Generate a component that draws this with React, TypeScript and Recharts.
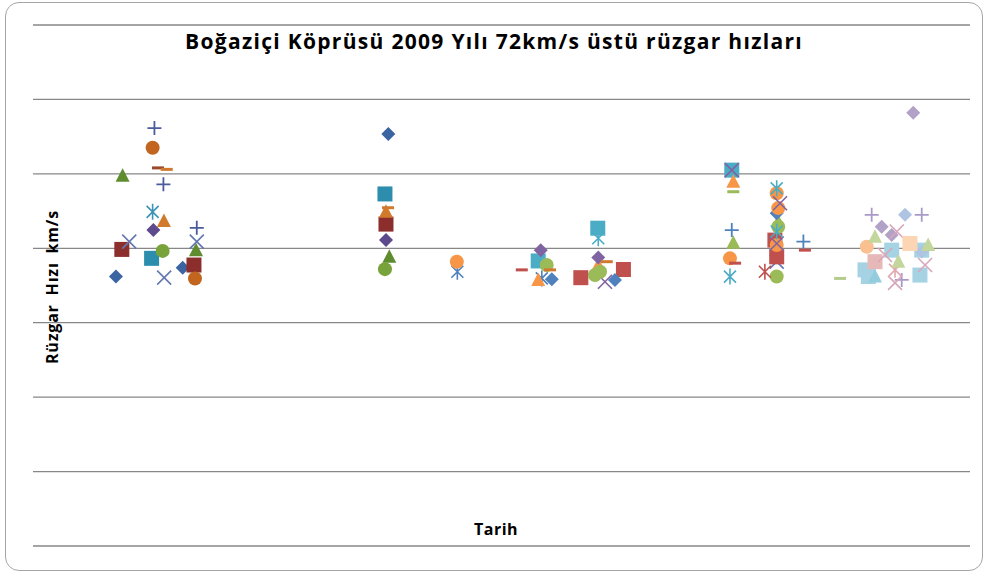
import React from "react";
import { ScatterChart, Scatter, XAxis, YAxis, CartesianGrid } from "recharts";

// gun = day of year 2009, hiz = wind speed, seri = index into SERI_STILLERI
type Nokta = { gun: number; hiz: number; seri: number };

const subat: Nokta[] = [
  { gun: 47.3, hiz: 112.3, seri: 6 }, { gun: 46.6, hiz: 107.0, seri: 5 }, { gun: 48.7, hiz: 101.6, seri: 7 },
  { gun: 52.1, hiz: 101.2, seri: 38 }, { gun: 34.9, hiz: 99.5, seri: 2 }, { gun: 50.8, hiz: 97.2, seri: 6 },
  { gun: 46.6, hiz: 89.8, seri: 9 }, { gun: 51.0, hiz: 87.3, seri: 10 }, { gun: 46.9, hiz: 84.9, seri: 3 },
  { gun: 37.5, hiz: 81.8, seri: 8 }, { gun: 63.8, hiz: 85.5, seri: 6 }, { gun: 63.8, hiz: 81.8, seri: 8 },
  { gun: 34.6, hiz: 79.7, seri: 1 }, { gun: 50.5, hiz: 79.3, seri: 11 }, { gun: 46.2, hiz: 77.3, seri: 4 },
  { gun: 63.5, hiz: 79.5, seri: 2 }, { gun: 58.3, hiz: 74.8, seri: 0 }, { gun: 62.7, hiz: 75.5, seri: 1 },
  { gun: 51.1, hiz: 72.1, seri: 8 }, { gun: 32.3, hiz: 72.4, seri: 0 }, { gun: 63.1, hiz: 71.9, seri: 5 },
];

const mayisHaziran: Nokta[] = [
  { gun: 138.4, hiz: 110.7, seri: 0 }, { gun: 137.1, hiz: 94.6, seri: 4 }, { gun: 138.3, hiz: 90.9, seri: 38 },
  { gun: 137.5, hiz: 89.8, seri: 10 }, { gun: 137.5, hiz: 86.5, seri: 1 }, { gun: 137.5, hiz: 82.2, seri: 3 },
  { gun: 138.8, hiz: 77.7, seri: 2 }, { gun: 137.1, hiz: 74.4, seri: 11 }, { gun: 165.1, hiz: 76.4, seri: 16 },
  { gun: 165.3, hiz: 73.7, seri: 15 },
];

const temmuzAgustos: Nokta[] = [
  { gun: 220.0, hiz: 85.4, seri: 17 }, { gun: 220.2, hiz: 82.7, seri: 39 }, { gun: 197.8, hiz: 79.5, seri: 20 },
  { gun: 190.4, hiz: 74.2, seri: 19 }, { gun: 196.8, hiz: 76.6, seri: 17 }, { gun: 200.1, hiz: 75.5, seri: 22 },
  { gun: 201.4, hiz: 74.2, seri: 38 }, { gun: 198.2, hiz: 71.9, seri: 15 }, { gun: 196.8, hiz: 71.5, seri: 18 },
  { gun: 202.1, hiz: 71.7, seri: 14 }, { gun: 213.4, hiz: 72.1, seri: 12 }, { gun: 220.2, hiz: 77.5, seri: 20 },
  { gun: 220.2, hiz: 75.5, seri: 18 }, { gun: 218.9, hiz: 72.8, seri: 22 }, { gun: 223.5, hiz: 76.4, seri: 38 },
  { gun: 222.8, hiz: 71.0, seri: 21 }, { gun: 226.7, hiz: 71.5, seri: 14 }, { gun: 230.0, hiz: 74.3, seri: 12 },
  { gun: 220.9, hiz: 73.7, seri: 22 },
];

const ekim: Nokta[] = [
  { gun: 272.2, hiz: 101.0, seri: 17 }, { gun: 272.2, hiz: 101.0, seri: 21 }, { gun: 272.8, hiz: 97.9, seri: 18 },
  { gun: 272.8, hiz: 95.2, seri: 25 }, { gun: 272.2, hiz: 84.9, seri: 23 }, { gun: 272.8, hiz: 81.5, seri: 13 },
  { gun: 271.5, hiz: 77.3, seri: 16 }, { gun: 273.5, hiz: 76.0, seri: 19 }, { gun: 271.5, hiz: 72.4, seri: 39 },
  { gun: 289.7, hiz: 96.1, seri: 39 }, { gun: 289.7, hiz: 94.8, seri: 16 }, { gun: 291.0, hiz: 92.1, seri: 21 },
  { gun: 290.3, hiz: 90.8, seri: 16 }, { gun: 289.7, hiz: 89.4, seri: 14 }, { gun: 290.3, hiz: 87.2, seri: 13 },
  { gun: 290.3, hiz: 85.8, seri: 22 }, { gun: 289.7, hiz: 84.5, seri: 39 }, { gun: 289.0, hiz: 82.2, seri: 12 },
  { gun: 289.7, hiz: 81.3, seri: 21 }, { gun: 289.7, hiz: 80.9, seri: 16 }, { gun: 289.7, hiz: 77.7, seri: 12 },
  { gun: 289.7, hiz: 76.4, seri: 8 }, { gun: 285.1, hiz: 73.7, seri: 24 }, { gun: 289.7, hiz: 72.4, seri: 22 },
  { gun: 300.1, hiz: 81.8, seri: 23 }, { gun: 300.7, hiz: 79.5, seri: 19 },
];

const kasimAralik: Nokta[] = [
  { gun: 342.9, hiz: 116.4, seri: 26 }, { gun: 314.4, hiz: 71.9, seri: 34 }, { gun: 326.7, hiz: 89.0, seri: 27 },
  { gun: 339.7, hiz: 89.0, seri: 35 }, { gun: 346.2, hiz: 89.0, seri: 27 }, { gun: 330.6, hiz: 85.8, seri: 26 },
  { gun: 336.5, hiz: 84.5, seri: 30 }, { gun: 334.5, hiz: 83.6, seri: 26 }, { gun: 328.0, hiz: 83.1, seri: 37 },
  { gun: 324.8, hiz: 80.4, seri: 33 }, { gun: 341.6, hiz: 81.3, seri: 36 }, { gun: 334.5, hiz: 79.5, seri: 28 },
  { gun: 346.2, hiz: 79.5, seri: 28 }, { gun: 346.2, hiz: 79.1, seri: 35 }, { gun: 348.7, hiz: 80.9, seri: 37 },
  { gun: 328.0, hiz: 76.4, seri: 29 }, { gun: 331.9, hiz: 78.2, seri: 30 }, { gun: 328.0, hiz: 72.4, seri: 31 },
  { gun: 335.8, hiz: 74.2, seri: 32 }, { gun: 345.5, hiz: 72.8, seri: 28 }, { gun: 347.5, hiz: 75.5, seri: 30 },
  { gun: 325.4, hiz: 72.4, seri: 28 }, { gun: 338.4, hiz: 71.5, seri: 27 }, { gun: 337.1, hiz: 76.4, seri: 37 },
  { gun: 324.1, hiz: 74.2, seri: 28 }, { gun: 335.8, hiz: 70.7, seri: 30 },
];

const yTicks = [0, 20, 40, 60, 80, 100, 120, 140];

type Sekil = "diamond" | "square" | "triangle" | "x" | "star" | "circle" | "plus" | "dash";

const SERI_STILLERI: { sekil: Sekil; renk: string }[] = [
  { sekil: "diamond", renk: "#3B64A3" }, { sekil: "square", renk: "#8C2E2C" }, { sekil: "triangle", renk: "#5E8C2F" },
  { sekil: "diamond", renk: "#5C4A8C" }, { sekil: "square", renk: "#2C8DAD" }, { sekil: "circle", renk: "#C2661F" },
  { sekil: "plus", renk: "#4A5C9C" }, { sekil: "dash", renk: "#9A4A2A" }, { sekil: "x", renk: "#6478B0" },
  { sekil: "star", renk: "#3D93B5" }, { sekil: "triangle", renk: "#D27A2C" }, { sekil: "circle", renk: "#78A33A" },
  { sekil: "square", renk: "#C0504D" }, { sekil: "triangle", renk: "#9BBB59" }, { sekil: "diamond", renk: "#4F81BD" },
  { sekil: "star", renk: "#4F81BD" }, { sekil: "circle", renk: "#F79646" }, { sekil: "square", renk: "#4BACC6" },
  { sekil: "triangle", renk: "#F79646" }, { sekil: "dash", renk: "#C0504D" }, { sekil: "diamond", renk: "#8064A2" },
  { sekil: "x", renk: "#8064A2" }, { sekil: "circle", renk: "#9BBB59" }, { sekil: "plus", renk: "#4F81BD" },
  { sekil: "star", renk: "#C0504D" }, { sekil: "dash", renk: "#9BBB59" }, { sekil: "diamond", renk: "#B3A2C7" },
  { sekil: "plus", renk: "#A99BC9" }, { sekil: "square", renk: "#A5D3E3" }, { sekil: "square", renk: "#E6B9B8" },
  { sekil: "x", renk: "#D9A5B8" }, { sekil: "triangle", renk: "#93CDDD" }, { sekil: "star", renk: "#E2A8B0" },
  { sekil: "circle", renk: "#FAC090" }, { sekil: "dash", renk: "#B5CC8E" }, { sekil: "diamond", renk: "#AFC4E2" },
  { sekil: "square", renk: "#FCD5B5" }, { sekil: "triangle", renk: "#C3D69B" }, { sekil: "dash", renk: "#D07A30" },
  { sekil: "star", renk: "#4BACC6" },
];

const tumNoktalar = [...subat, ...mayisHaziran, ...temmuzAgustos, ...ekim, ...kasimAralik];

function Isaret({ cx, cy, sekil, renk }: { cx?: number; cy?: number; sekil: Sekil; renk: string }) {
  if (cx == null || cy == null) return null;
  const s = 7;
  switch (sekil) {
    case "diamond":
      return <path d={`M${cx},${cy - s} L${cx + s},${cy} L${cx},${cy + s} L${cx - s},${cy} Z`} fill={renk} />;
    case "square":
      return <rect x={cx - 7.5} y={cy - 7.5} width={15} height={15} fill={renk} />;
    case "triangle":
      return <path d={`M${cx},${cy - 7.5} L${cx + 7},${cy + 6} L${cx - 7},${cy + 6} Z`} fill={renk} />;
    case "circle":
      return <circle cx={cx} cy={cy} r={7} fill={renk} />;
    case "x":
      return (
        <path d={`M${cx - s},${cy - s} L${cx + s},${cy + s} M${cx + s},${cy - s} L${cx - s},${cy + s}`} stroke={renk} strokeWidth={1.6} fill="none" />
      );
    case "star":
      return (
        <path
          d={`M${cx - 6},${cy - 6} L${cx + 6},${cy + 6} M${cx + 6},${cy - 6} L${cx - 6},${cy + 6} M${cx},${cy - 8} L${cx},${cy + 8}`}
          stroke={renk}
          strokeWidth={1.6}
          fill="none"
        />
      );
    case "plus":
      return <path d={`M${cx - s},${cy} L${cx + s},${cy} M${cx},${cy - s} L${cx},${cy + s}`} stroke={renk} strokeWidth={1.8} fill="none" />;
    case "dash":
      return <rect x={cx - 6} y={cy - 1.5} width={12} height={3} fill={renk} />;
  }
  return null;
}

const yaziTipi = "'Open Sans', sans-serif";

export default function App() {
  return (
    <div style={{ position: "absolute", left: 0, top: 0, width: 987, height: 573, background: "#fff", fontFamily: yaziTipi }}>
      <div
        style={{
          position: "absolute",
          left: 5,
          top: 2,
          width: 976,
          height: 567,
          border: "1px solid #a6a6a6",
          borderRadius: 14,
        }}
      />
      <ScatterChart width={987} height={573} margin={{ top: 25, right: 17, bottom: 27, left: 33 }}>
        <CartesianGrid vertical={false} stroke="#878787" strokeWidth={1.3} />
        <XAxis type="number" dataKey="gun" domain={[0, 365]} hide />
        <YAxis type="number" dataKey="hiz" domain={[0, 140]} ticks={yTicks} hide />
        {SERI_STILLERI.map((st, i) => {
          const veri = tumNoktalar.filter((p) => p.seri === i);
          if (!veri.length) return null;
          return (
            <Scatter
              key={i}
              name={`Seri ${i + 1}`}
              data={veri}
              fill={st.renk}
              isAnimationActive={false}
              shape={(p: any) => <Isaret cx={p.cx} cy={p.cy} sekil={st.sekil} renk={st.renk} />}
            />
          );
        })}
      </ScatterChart>
      <div
        style={{
          position: "absolute",
          left: 494,
          top: 41,
          transform: "translate(-50%, -50%)",
          whiteSpace: "nowrap",
          fontWeight: 700,
          fontSize: 21,
          letterSpacing: 1.3,
          color: "#000",
        }}
      >
        Boğaziçi Köprüsü 2009 Yılı 72km/s üstü rüzgar hızları
      </div>
      <div
        style={{
          position: "absolute",
          left: 52,
          top: 287,
          transform: "translate(-50%, -50%) rotate(-90deg)",
          whiteSpace: "nowrap",
          fontWeight: 700,
          fontSize: 16,
          letterSpacing: 0.8,
          wordSpacing: 4,
          color: "#000",
        }}
      >
        Rüzgar Hızı km/s
      </div>
      <div
        style={{
          position: "absolute",
          left: 496,
          top: 529,
          transform: "translate(-50%, -50%)",
          fontWeight: 700,
          fontSize: 16,
          letterSpacing: 0.5,
          color: "#000",
        }}
      >
        Tarih
      </div>
    </div>
  );
}
